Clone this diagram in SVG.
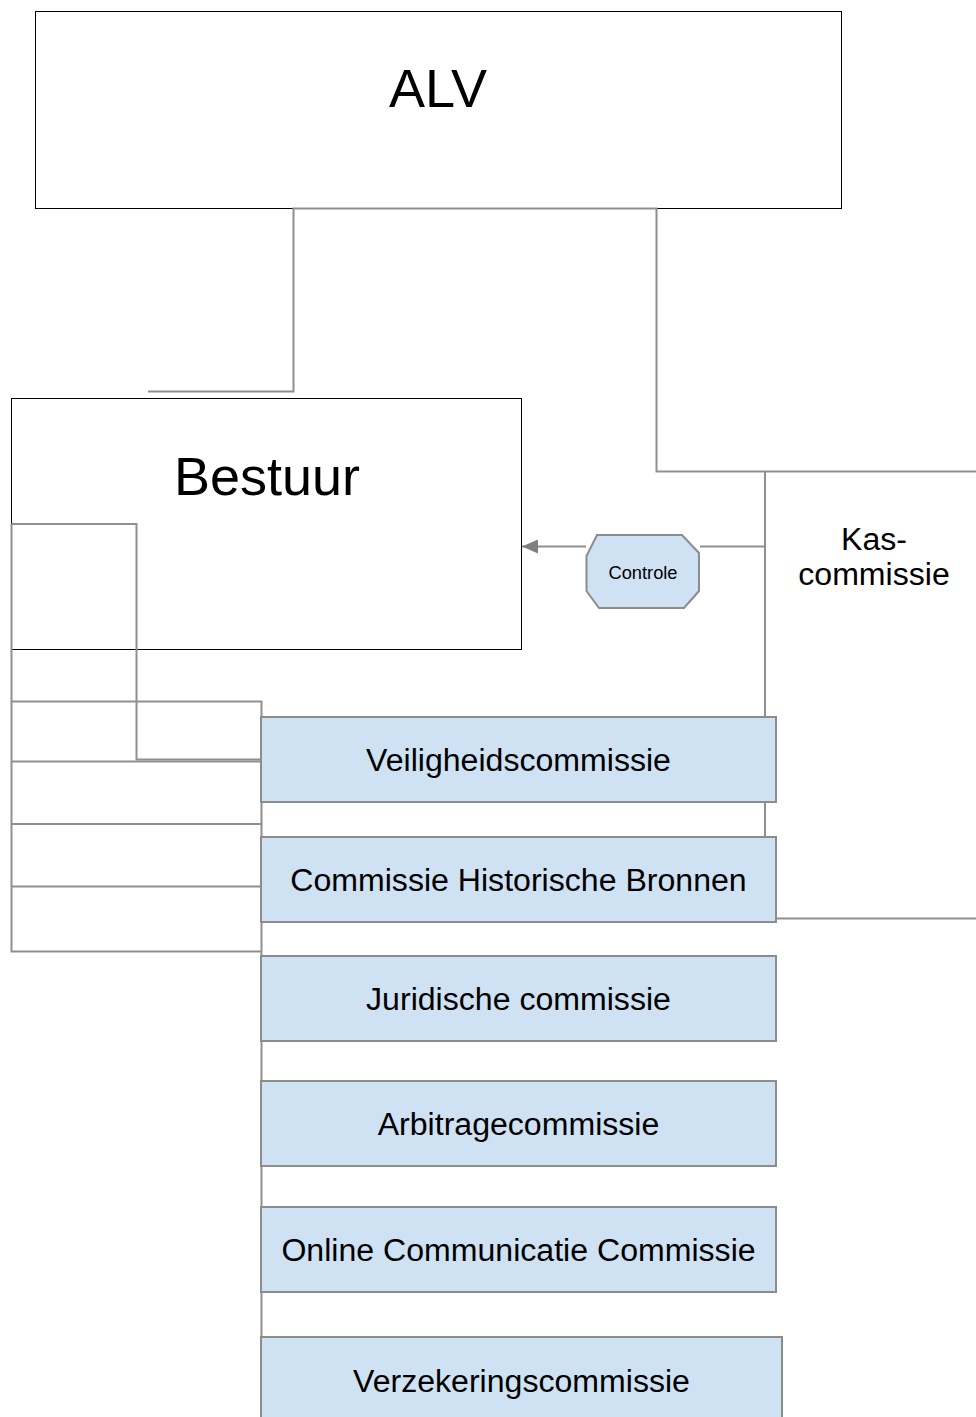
<svg xmlns="http://www.w3.org/2000/svg" width="976" height="1417" viewBox="0 0 976 1417">
<style>
.frame{fill:#fff;stroke:#000;stroke-width:1}
.com{fill:#cfe2f3;stroke:#8c8c8c;stroke-width:2}
.conn{fill:none;stroke:#8f8f8f;stroke-width:2}
text{font-family:"Liberation Sans",Arial,sans-serif;fill:#000;text-anchor:middle}
.big{font-size:54px}
.mid{font-size:32.1px}
.small{font-size:18.3px}
</style>
<defs>
<marker id="arr" markerWidth="16" markerHeight="14" refX="16" refY="7" orient="auto" markerUnits="userSpaceOnUse">
<path d="M0,0 L16,7 L0,14 Z" fill="#7f7f7f"/>
</marker>
</defs>
<rect width="976" height="1417" fill="#fff"/>
<g id="alv"><rect class="frame" x="35.5" y="11.5" width="806" height="197"/><text class="big" x="438" y="107">ALV</text></g>
<g id="bestuur"><rect class="frame" x="11.5" y="398.5" width="510" height="251"/><text class="big" x="267" y="495">Bestuur</text></g>
<g id="kascommissie"><text class="mid" x="874" y="550">Kas-</text><text class="mid" x="874" y="585">commissie</text></g>
<g id="connectors">
<path class="conn" d="M438,208.5 H293.5 V391.5 H148"/>
<path class="conn" d="M438,208.5 H656.5 V471.5 H976"/>
<path class="conn" d="M765,471.5 V836"/>
<path class="conn" d="M765,546.5 H700"/>
<path class="conn" d="M586,546.5 H522" marker-end="url(#arr)"/>
<path class="conn" d="M777,918.5 H976"/>
<path class="conn" d="M11.5,524 H136.5 V759.5 H261"/>
<path class="conn" d="M11.5,524 V951.5 H261"/>
<path class="conn" d="M11.5,701.5 H261.5 V1417"/>
<path class="conn" d="M11.5,761.5 H261"/>
<path class="conn" d="M11.5,824 H261"/>
<path class="conn" d="M11.5,886.5 H261"/>
</g>
<g id="controle"><polygon class="com" points="597,535 682,535 699,553 699,591 684,608 599,608 586.5,591 586.5,556"/><text class="small" x="643" y="578.5">Controle</text></g>
<g id="veiligheidscommissie"><rect class="com" x="261" y="717" width="515" height="85"/><text class="mid" x="518.5" y="771">Veiligheidscommissie</text></g>
<g id="historische-bronnen"><rect class="com" x="261" y="837" width="515" height="85"/><text class="mid" x="518.5" y="891">Commissie Historische Bronnen</text></g>
<g id="juridische"><rect class="com" x="261" y="956" width="515" height="85"/><text class="mid" x="518.5" y="1010">Juridische commissie</text></g>
<g id="arbitrage"><rect class="com" x="261" y="1081" width="515" height="85"/><text class="mid" x="518.5" y="1135">Arbitragecommissie</text></g>
<g id="online"><rect class="com" x="261" y="1207" width="515" height="85"/><text class="mid" x="518.5" y="1261">Online Communicatie Commissie</text></g>
<g id="verzekering"><rect class="com" x="261" y="1337" width="521" height="90"/><text class="mid" x="521.5" y="1392">Verzekeringscommissie</text></g>
</svg>
